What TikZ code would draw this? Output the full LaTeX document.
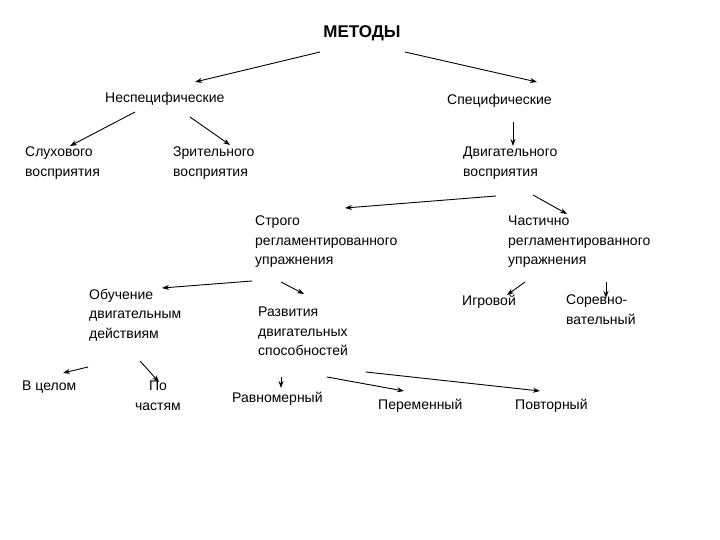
\documentclass[tikz,border=0pt]{standalone}
\usepackage{fontspec}
\setmainfont{Liberation Sans}
\usetikzlibrary{arrows.meta}
\begin{document}
\begin{tikzpicture}[x=1pt,y=-1pt,
  lbl/.style={anchor=north west,inner sep=0pt,align=left,font=\fontsize{14}{19.5}\selectfont},
  arr/.style={-{Stealth[length=7pt,width=5pt]},line width=0.9pt}]
\useasboundingbox (0,0) rectangle (720,540);
\node[anchor=north,inner sep=0pt,font=\fontsize{17}{20}\selectfont\bfseries] (m) at (362,25) {МЕТОДЫ};
\node[lbl] (ns) at (105,92) {Неспецифические};
\node[lbl] (sp) at (447,94) {Специфические};
\node[lbl] (sl) at (25,147) {Слухового\\восприятия};
\node[lbl] (zr) at (173,147) {Зрительного\\восприятия};
\node[lbl] (dv) at (463,147) {Двигательного\\восприятия};
\node[lbl] (st) at (255,216) {Строго\\регламентированного\\упражнения};
\node[lbl] (ch) at (508,216) {Частично\\регламентированного\\упражнения};
\node[lbl] (ob) at (89,289) {Обучение\\двигательным\\действиям};
\node[lbl] (rz) at (258,307) {Развития\\двигательных\\способностей};
\node[lbl] (ig) at (462,295) {Игровой};
\node[lbl] (so) at (566,295) {Соревно-\\вательный};
\node[lbl] (vc) at (22,381) {В целом};
\node[lbl,align=center,anchor=north] (pc) at (158,381) {По\\частям};
\node[lbl] (rv) at (232,392) {Равномерный};
\node[lbl] (pe) at (378,399) {Переменный};
\node[lbl] (po) at (515,399) {Повторный};
% arrow endpoints
\coordinate (a1) at (320,52); \coordinate (b1) at (195,82);
\coordinate (a2) at (405,52); \coordinate (b2) at (537,82);
\coordinate (a3) at (135,112); \coordinate (b3) at (70,146);
\coordinate (a4) at (190,117); \coordinate (b4) at (230,145);
\coordinate (a5) at (513,122); \coordinate (b5) at (513,146);
\coordinate (a6) at (496,196); \coordinate (b6) at (345,208);
\coordinate (a7) at (533,195); \coordinate (b7) at (567,214);
\coordinate (a8) at (252,281); \coordinate (b8) at (162,288);
\coordinate (a9) at (281,282); \coordinate (b9) at (304,294);
\coordinate (a10) at (525,282); \coordinate (b10) at (507,295);
\coordinate (a11) at (606,282); \coordinate (b11) at (606,298);
\coordinate (a12) at (88,367); \coordinate (b12) at (63,373);
\coordinate (a13) at (140,361); \coordinate (b13) at (159,382);
\coordinate (a14) at (281,377); \coordinate (b14) at (281,388);
\coordinate (a15) at (327,377); \coordinate (b15) at (404,391);
\coordinate (a16) at (366,372); \coordinate (b16) at (540,391);
\foreach \i in {1,...,16} \draw[arr] (a\i) -- (b\i);
\end{tikzpicture}
\end{document}
